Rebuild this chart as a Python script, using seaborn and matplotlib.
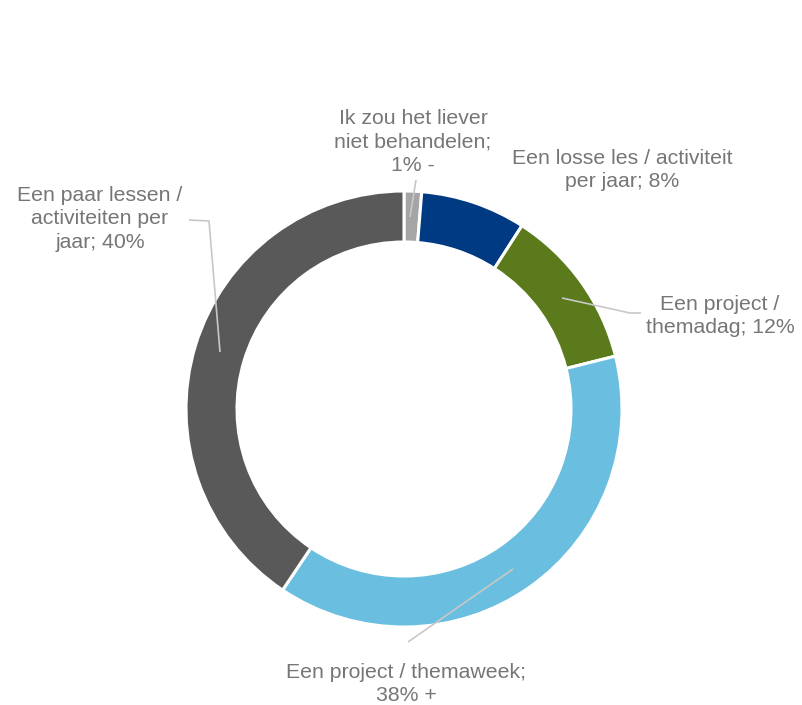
import matplotlib
matplotlib.use("Agg")
import matplotlib.pyplot as plt
import seaborn as sns

# ---- data ----
categories = [
    "Ik zou het liever\nniet behandelen;\n1% -",
    "Een losse les / activiteit\nper jaar; 8%",
    "Een project /\nthemadag; 12%",
    "Een project / themaweek;\n38% +",
    "Een paar lessen /\nactiviteiten per\njaar; 40%",
]
values = [1.3, 7.8, 12.0, 38.3, 40.6]
colors = ["#A5A5A5", "#003A82", "#5A7A1B", "#6ABEDF", "#595959"]

# ---- layout (pixel coordinates of the 802x705 canvas) ----
W, H = 802, 705
center = (404, 409)
radius = 218
ring = 51
label_pos = [(413, 142), (622, 170), (720, 316), (406, 684), (100, 219)]
leaders = [
    [(410, 217), (416, 180)],
    None,
    [(562, 298), (630, 313), (641, 313)],
    [(513, 569), (408, 642)],
    [(220, 352), (209, 221), (189, 220)],
]

sns.set_theme(style="white")
plt.rcParams["font.family"] = ["Liberation Sans", "DejaVu Sans"]

fig = plt.figure(figsize=(W / 100, H / 100), dpi=100)
ax = fig.add_axes([0, 0, 1, 1])

def fy(y):
    return H - y

ax.pie(values, colors=colors, startangle=90, counterclock=False,
       center=(center[0], fy(center[1])), radius=radius,
       wedgeprops=dict(width=ring, edgecolor="white", linewidth=2.2),
       frame=True)
ax.set_xlim(0, W)
ax.set_ylim(0, H)
ax.set_aspect("equal")
ax.axis("off")

for lead in leaders:
    if lead is None:
        continue
    xs = [p[0] for p in lead]
    ys = [fy(p[1]) for p in lead]
    ax.plot(xs, ys, color="#C8C8C8", lw=1.2, zorder=5, solid_capstyle="butt")

for txt, (x, y) in zip(categories, label_pos):
    ax.text(x, fy(y), txt, ha="center", va="center", fontsize=15.3,
            color="#767676", linespacing=1.27, zorder=6)

fig.savefig("out.png", dpi=100, facecolor="white")
